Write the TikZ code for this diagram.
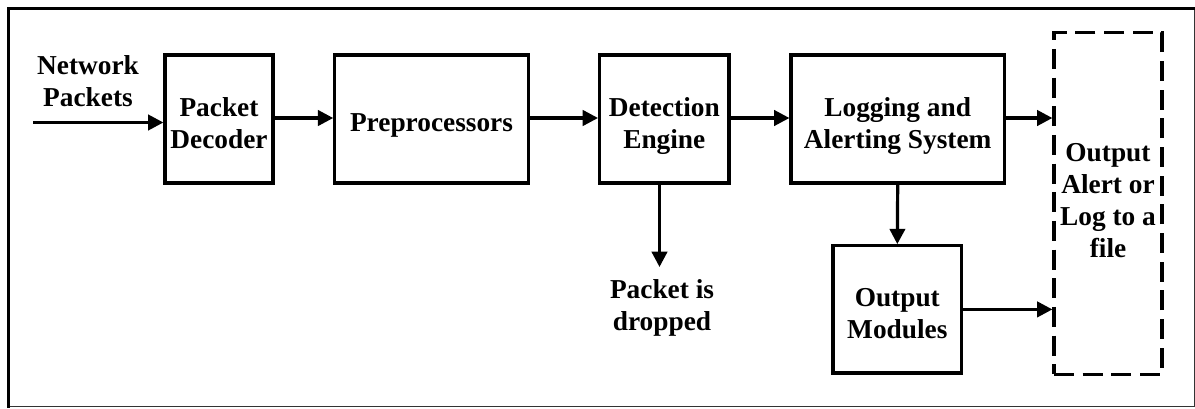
\documentclass[tikz,border=0pt]{standalone}
\usepackage{fontspec}
\setmainfont{Liberation Serif}
\usetikzlibrary{arrows.meta}

\begin{document}
\begin{tikzpicture}[x=0.75pt,y=-0.75pt,
  lbl/.style={font=\fontsize{20.5pt}{24pt}\selectfont\bfseries, align=center, inner sep=0pt,
              execute at begin node=\strut, execute at end node=\strut},
  block/.style={draw, line width=2.4pt, minimum height=96pt, inner sep=0pt},
  outbox/.style={draw, line width=2.4pt, dash pattern=on 15pt off 6.5pt, inner sep=0pt},
  flow/.style={line width=2.4pt, -{Triangle[length=11.5pt,width=11.5pt]}}
]
  \useasboundingbox (0,0) rectangle (1195,408);
  % outer frame: heavy top and left edges, thin bottom and right edges
  \draw[line width=0.9pt, black!80] (8.5,406.5) -- (1194.3,406.5) -- (1194.3,8.5);
  \draw[line width=2.5pt, line cap=rect] (8.5,406.5) -- (8.5,8.5) -- (1194.3,8.5);

  % processing blocks
  \node[block, minimum width=81pt,
        label={[lbl,yshift=-6.5pt]center:{Packet\\Decoder}}] (pd) at (219,119) {};
  \node[block, minimum width=145pt,
        label={[lbl,yshift=-4.5pt]center:{Preprocessors}}] (pre) at (431.5,119) {};
  \node[block, minimum width=97pt,
        label={[lbl,yshift=-6.5pt]center:{Detection\\Engine}}] (det) at (664.3,119) {};
  \node[block, minimum width=160pt,
        label={[lbl,yshift=-6.5pt]center:{Logging and\\Alerting System}}] (log) at (897.7,119) {};
  \node[block, minimum width=96.5pt, minimum height=95.5pt,
        label={[lbl,yshift=-7pt]center:{Output\\Modules}}] (om) at (897.3,309.4) {};
  \node[outbox, minimum width=81pt, minimum height=256pt,
        label={[lbl,yshift=-1.2pt]center:{Output\\Alert or\\Log to a\\file}}] (out) at (1108,203.5) {};

  % free labels
  \node[lbl] (np)   at (88,85.6)   {Network\\Packets};
  \node[lbl] (drop) at (662,309.5) {Packet is\\dropped};

  % connector end points
  \coordinate (src)  at (33,122.5);
  \coordinate (dend) at (659.5,267);

  % connectors
  \draw[flow] (src) -- (src -| pd.west);
  \draw[flow] ([yshift=0.75pt]pd.east) -- ([yshift=0.75pt]pre.west);
  \draw[flow] ([yshift=0.75pt]pre.east) -- ([yshift=0.75pt]det.west);
  \draw[flow] ([yshift=0.75pt]det.east) -- ([yshift=0.75pt]log.west);
  \draw[flow] ([yshift=0.75pt]log.east) -- ([yshift=0.75pt]log.east -| out.west);
  \draw[flow] (dend |- det.south) -- (dend);
  \draw[flow] (log.south) -- (om.north);
  \draw[flow] (om.east) -- (om.east -| out.west);
\end{tikzpicture}
\end{document}
